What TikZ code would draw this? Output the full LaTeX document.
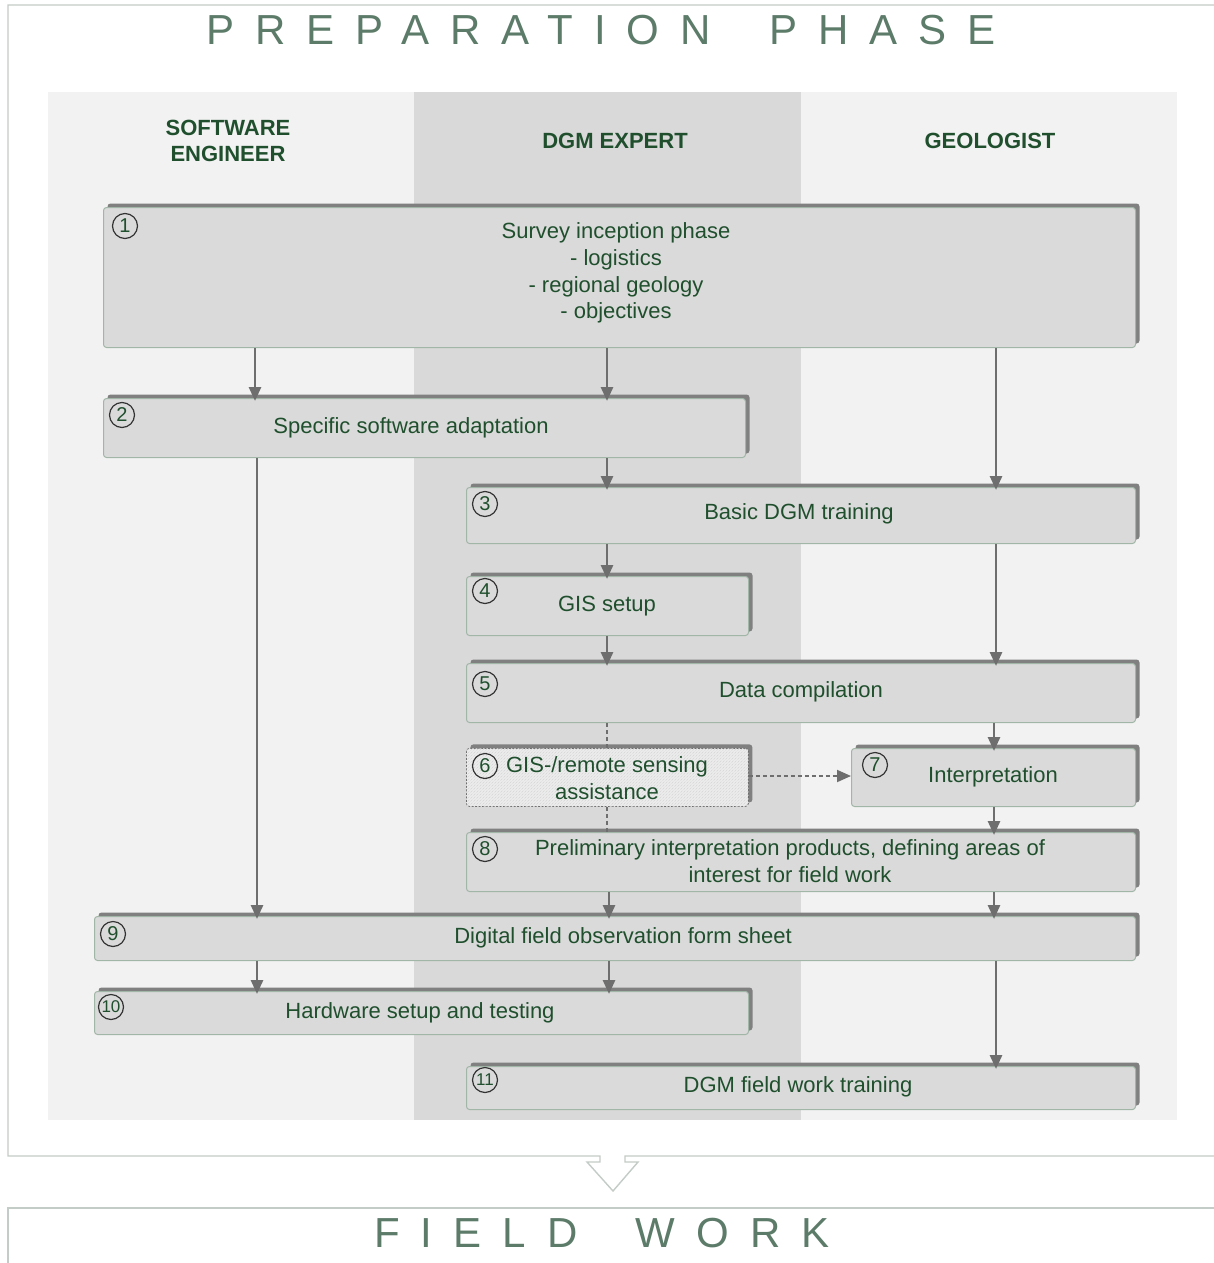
\documentclass[tikz,border=0pt]{standalone}
\usepackage{fontspec}
\setmainfont{Liberation Sans}
\usetikzlibrary{arrows.meta,patterns,shadows}

\definecolor{txtgreen}{HTML}{1F4F2D}
\definecolor{titlegreen}{HTML}{5C7B69}
\definecolor{lanelight}{HTML}{F2F2F2}
\definecolor{lanemid}{HTML}{D9D9D9}
\definecolor{boxfill}{HTML}{DADADA}
\definecolor{boxedge}{HTML}{A2B6A8}
\definecolor{shadowgray}{HTML}{808080}
\definecolor{arrowgray}{HTML}{6E6E6E}
\definecolor{framegray}{HTML}{C4CCC7}

\tikzset{
  stepbox/.style={draw=boxedge, line width=1pt, fill=boxfill, rounded corners=3pt,
    anchor=north west, inner sep=0pt,
    general shadow={fill=shadowgray, shadow xshift=4pt, shadow yshift=4pt}},
  helpbox/.style={draw=arrowgray, line width=0.8pt, dash pattern=on 2pt off 1.5pt,
    rounded corners=3pt, anchor=north west, inner sep=0pt,
    fill=boxfill!50!white, postaction={pattern=north east lines, pattern color=black!16},
    general shadow={fill=shadowgray, shadow xshift=4pt, shadow yshift=4pt}},
  boxtext/.style={text=txtgreen, font=\fontsize{22}{26.7}\selectfont, align=center, inner sep=0pt},
  lanehead/.style={text=txtgreen, font=\fontsize{22}{26}\selectfont\bfseries, align=center, inner sep=0pt},
  numcirc/.style={circle, draw=black!80, line width=1.2pt, minimum size=25pt, inner sep=0pt,
    text=txtgreen, font=\fontsize{20}{20}\selectfont},
  tip/.tip={Triangle[length=14pt,width=12pt]},
  flow/.style={draw=arrowgray, line width=2.8pt, -tip, shorten >=-3pt},
  dashlink/.style={draw=arrowgray, line width=1.9pt, dash pattern=on 4pt off 3pt},
  frameline/.style={draw=framegray, line width=1.4pt},
  bigtitle/.style={text=titlegreen, inner sep=0pt,
    font=\fontsize{42}{42}\selectfont\addfontfeature{LetterSpace=50}},
}

\begin{document}
\begin{tikzpicture}[x=1pt,y=-1pt]
\useasboundingbox (0,0) rectangle (1214,1263);
\fill[white] (0,0) rectangle (1214,1263);

% phase frames
\draw[frameline] (1214,5) -- (8,5) -- (8,1156) -- (600,1156) -- (600,1162) -- (587,1162)
  -- (613,1191) -- (638,1162) -- (625,1162) -- (625,1156) -- (1214,1156);
\draw[frameline] (8,1263) -- (8,1208) -- (1214,1208);

\node[bigtitle] (tprep) at (601,30) {PREPARATION\hspace{26pt} PHASE};
\node[bigtitle] (tfield) at (602,1233) {FIELD\hspace{26pt} WORK};

% swim lanes
\fill[lanelight] (48,92) rectangle (414,1120);
\fill[lanemid] (414,92) rectangle (801,1120);
\fill[lanelight] (801,92) rectangle (1177,1120);

\node[lanehead] (hsw) at (228,141) {SOFTWARE\\ENGINEER};
\node[lanehead] (hdgm) at (615,141) {DGM EXPERT};
\node[lanehead] (hgeo) at (990,141) {GEOLOGIST};

% process steps
\node[stepbox, minimum width=1032pt, minimum height=140pt] (b1) at (103,207) {};
\node[stepbox, minimum width=642pt, minimum height=59pt] (b2) at (103,398) {};
\node[stepbox, minimum width=669pt, minimum height=56pt] (b3) at (466,487) {};
\node[stepbox, minimum width=282pt, minimum height=59pt] (b4) at (466,576) {};
\node[stepbox, minimum width=669pt, minimum height=59pt] (b5) at (466,663) {};
\node[helpbox, minimum width=282pt, minimum height=58pt] (b6) at (466,748) {};
\node[stepbox, minimum width=284pt, minimum height=58pt] (b7) at (851,748) {};
\node[stepbox, minimum width=669pt, minimum height=59pt] (b8) at (466,832) {};
\node[stepbox, minimum width=1041pt, minimum height=44pt] (b9) at (94,916) {};
\node[stepbox, minimum width=654pt, minimum height=43pt] (b10) at (94,991) {};
\node[stepbox, minimum width=669pt, minimum height=43pt] (b11) at (466,1066) {};

% step texts
\node[boxtext] (t1) at (616,273) {Survey inception phase\\- logistics\\- regional geology\\- objectives};
\node[boxtext] (t2) at (411,428) {Specific software adaptation};
\node[boxtext] (t3) at (799,514) {Basic DGM training};
\node[boxtext] (t4) at (607,606) {GIS setup};
\node[boxtext] (t5) at (801,692) {Data compilation};
\node[boxtext] (t6) at (607,778) {GIS-/remote sensing\\assistance};
\node[boxtext] (t7) at (993,777) {Interpretation};
\node[boxtext] (t8) at (790,861) {Preliminary interpretation products, defining areas of\\interest for field work};
\node[boxtext] (t9) at (623,938) {Digital field observation form sheet};
\node[boxtext] (t10) at (420,1013) {Hardware setup and testing};
\node[boxtext] (t11) at (798,1087) {DGM field work training};

% step numbers
\node[numcirc] (n1) at (125,226) {1};
\node[numcirc] (n2) at (122,415) {2};
\node[numcirc] (n3) at (485,504) {3};
\node[numcirc] (n4) at (485,591) {4};
\node[numcirc] (n5) at (485,684) {5};
\node[numcirc] (n6) at (485,766) {6};
\node[numcirc] (n7) at (875,765) {7};
\node[numcirc] (n8) at (485,849) {8};
\node[numcirc] (n9) at (113,934) {9};
\node[numcirc, font=\fontsize{17}{17}\selectfont] (n10) at (111,1007) {10};
\node[numcirc, font=\fontsize{17}{17}\selectfont] (n11) at (485,1080) {11};

% connectors
\draw[flow] (255,0 |- b1.south) -- (255,0 |- b2.north);
\draw[flow] (607,0 |- b1.south) -- (607,0 |- b2.north);
\draw[flow] (996,0 |- b1.south) -- (996,0 |- b3.north);
\draw[flow] (257,0 |- b2.south) -- (257,0 |- b9.north);
\draw[flow] (607,0 |- b2.south) -- (607,0 |- b3.north);
\draw[flow] (607,0 |- b3.south) -- (607,0 |- b4.north);
\draw[flow] (996,0 |- b3.south) -- (996,0 |- b5.north);
\draw[flow] (607,0 |- b4.south) -- (607,0 |- b5.north);
\draw[dashlink] (607,0 |- b5.south) -- (607,0 |- b6.north);
\draw[flow] (994,0 |- b5.south) -- (994,0 |- b7.north);
\draw[dashlink] (607,0 |- b6.south) -- (607,0 |- b8.north);
\draw[dashlink, -tip] (b6.east |- 0,776) -- (b7.west |- 0,776);
\draw[flow] (994,0 |- b7.south) -- (994,0 |- b8.north);
\draw[flow] (609,0 |- b8.south) -- (609,0 |- b9.north);
\draw[flow] (994,0 |- b8.south) -- (994,0 |- b9.north);
\draw[flow] (257,0 |- b9.south) -- (257,0 |- b10.north);
\draw[flow] (609,0 |- b9.south) -- (609,0 |- b10.north);
\draw[flow] (996,0 |- b9.south) -- (996,0 |- b11.north);
\end{tikzpicture}
\end{document}
